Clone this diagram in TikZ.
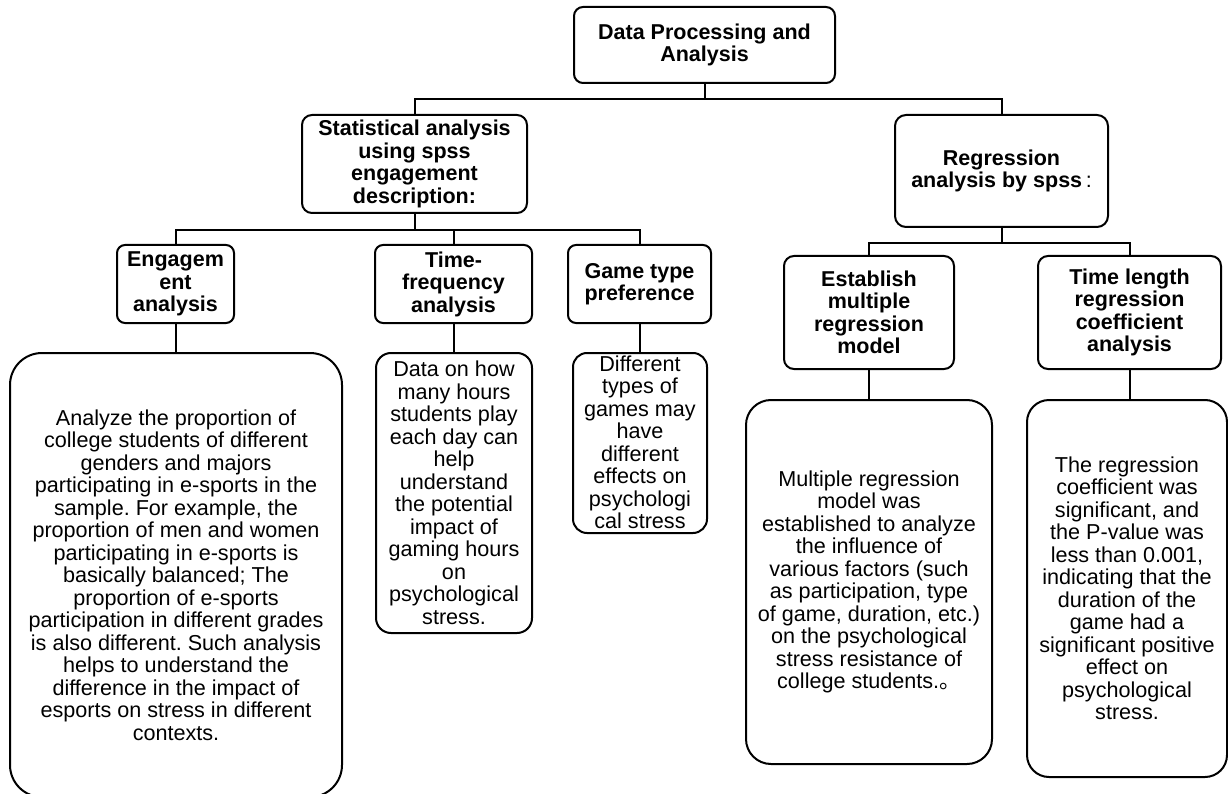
\documentclass[tikz,border=0pt]{standalone}
\usepackage{fontspec}
\setmainfont{Liberation Sans}
\newfontfamily\cjk{Noto Sans CJK SC}
\frenchspacing
\begin{document}
\begin{tikzpicture}[x=1pt,y=-1pt,
  box/.style={draw=black, line width=2pt, fill=white, align=center, inner sep=0pt,
    font=\fontsize{21.5}{22.5}\selectfont\bfseries},
  textbox/.style={draw=black, line width=2pt, fill=white, align=center, inner sep=0pt,
    font=\fontsize{21.6}{22.5}\selectfont},
  plain/.style={align=center, inner sep=0pt, font=\fontsize{21.6}{22.5}\selectfont},
  link/.style={draw=black, line width=2pt}
]
\useasboundingbox (0,0) rectangle (1228,794);

% level 0
\node[box, rounded corners=9pt, minimum width=261pt, minimum height=76pt] (top) at (704.5,45)
  {Data Processing and\\Analysis};

% level 1
\node[box, rounded corners=10pt, minimum width=225pt, minimum height=98pt] (stat) at (414.5,164)
  {Statistical analysis\\using spss\\engagement\\description:};
\node[box, rounded corners=11pt, minimum width=213pt, minimum height=112pt] (reg) at (1001.5,171)
  {Regression\\analysis by spss{\mdseries\,:}};

% level 2
\node[box, rounded corners=8pt, minimum width=117pt, minimum height=78pt] (eng) at (175.5,284)
  {Engagem\\ent\\analysis};
\node[box, rounded corners=8pt, minimum width=157pt, minimum height=78pt] (tf) at (453.5,284)
  {Time-\\frequency\\analysis};
\node[box, rounded corners=8pt, minimum width=143pt, minimum height=78pt] (gt) at (639.5,284)
  {Game type\\preference};
\node[box, rounded corners=10pt, minimum width=170pt, minimum height=113pt] (est) at (869,312.5)
  {Establish\\multiple\\regression\\model};
\node[box, rounded corners=10pt, minimum width=183pt, minimum height=113pt] (tl) at (1129.5,312.5)
  {Time length\\regression\\coefficient\\analysis};

% level 3
\node[textbox, rounded corners=32pt, minimum width=332pt, minimum height=444pt] (engL) at (176,575)
  {Analyze the proportion of\\college students of different\\genders and majors\\participating in e-sports in the\\sample. For example, the\\proportion of men and women\\participating in e-sports is\\basically balanced; The\\proportion of e-sports\\participation in different grades\\is also different. Such analysis\\helps to understand the\\difference in the impact of\\esports on stress in different\\contexts.};
\node[textbox, rounded corners=15pt, minimum width=156pt, minimum height=280pt] (tfL) at (454,493)
  {Data on how\\many hours\\students play\\each day can\\help\\understand\\the potential\\impact of\\gaming hours\\on\\psychological\\stress.};
\node[draw=black, line width=2pt, fill=white, rounded corners=14pt, minimum width=134pt, minimum height=180pt] (gtL) at (640,443) {};
\node[plain] (gtLtext) at (640,442.5)
  {Different\\types of\\games may\\have\\different\\effects on\\psychologi\\cal stress};
\node[textbox, rounded corners=25pt, minimum width=246pt, minimum height=364pt] (estL) at (869,582)
  {Multiple regression\\model was\\established to analyze\\the influence of\\various factors (such\\as participation, type\\of game, duration, etc.)\\on the psychological\\stress resistance of\\college students.{\cjk 。}};
\node[textbox, rounded corners=22pt, minimum width=200pt, minimum height=377pt] (tlL) at (1127,588.5)
  {The regression\\coefficient was\\significant, and\\the P-value was\\less than 0.001,\\indicating that the\\duration of the\\game had a\\significant positive\\effect on\\psychological\\stress.};

% connectors
\draw[link] (top.south) -- ++(0,15) -| (stat.north);
\draw[link] (top.south) -- ++(0,15) -| (reg.north);
\draw[link] (stat.south) -- ++(0,16) -| (eng.north);
\draw[link] (stat.south) -- ++(0,16) -| (tf.north);
\draw[link] (stat.south) -- ++(0,16) -| (gt.north);
\draw[link] (reg.south) -- ++(0,15) -| (est.north);
\draw[link] (reg.south) -- ++(0,15) -| (tl.north);
\draw[link] (eng.south) -- (eng.south |- engL.north);
\draw[link] (tf.south) -- (tf.south |- tfL.north);
\draw[link] (gt.south) -- (gt.south |- gtL.north);
\draw[link] (est.south) -- (est.south |- estL.north);
\draw[link] (tl.south) -- (tl.south |- tlL.north);
\end{tikzpicture}
\end{document}
